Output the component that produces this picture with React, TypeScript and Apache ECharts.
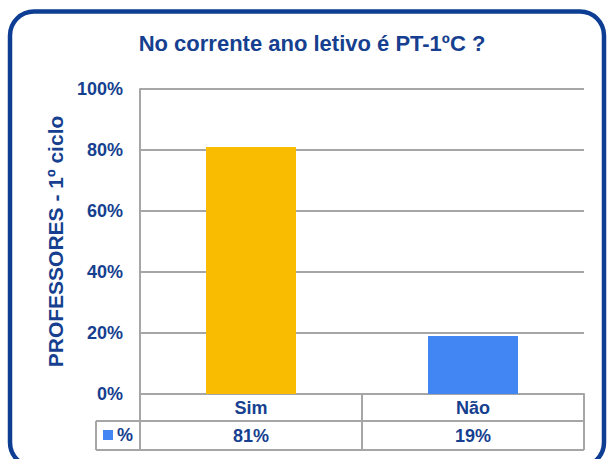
import React, { useEffect, useRef } from "react";
import * as echarts from "echarts";

const titleText = "No corrente ano letivo é PT-1ºC ?";
const yAxisTitle = "PROFESSORES - 1º ciclo";
const categories = ["Sim", "Não"];
const seriesName = "%";
const values = [81, 19];
const pointColors = ["#F9BC00", "#4286F4"];
const yTicks = { min: 0, max: 100, interval: 20 };

const TEXT = "#163F8F";
const GRID = "#A6A6A6";
const FONT = "'Liberation Sans', Arial, sans-serif";

// layout
const W = 608;
const H = 459;
const plotLeft = 140;
const plotRight = 584;
const plotTop = 89;
const plotBottom = 394;
const row1Bottom = 421;
const row2Bottom = 450;
const legendLeft = 96;

export default function App() {
  const ref = useRef<HTMLDivElement>(null);
  useEffect(() => {
    if (!ref.current) return;
    const chart = echarts.init(ref.current, undefined, { renderer: "svg" });

    const n = categories.length;
    const colW = (plotRight - plotLeft) / n;
    const lineStyle = { stroke: GRID, lineWidth: 2 };
    const tableLines: any[] = [
      { type: "line", shape: { x1: plotLeft, y1: row1Bottom, x2: plotRight, y2: row1Bottom }, style: lineStyle },
      { type: "line", shape: { x1: legendLeft, y1: row1Bottom, x2: plotLeft, y2: row1Bottom }, style: lineStyle },
      { type: "line", shape: { x1: legendLeft, y1: row2Bottom, x2: plotRight, y2: row2Bottom }, style: lineStyle },
      { type: "line", shape: { x1: legendLeft, y1: row1Bottom, x2: legendLeft, y2: row2Bottom }, style: lineStyle },
      { type: "line", shape: { x1: plotLeft, y1: plotBottom, x2: plotLeft, y2: row2Bottom }, style: lineStyle },
      { type: "line", shape: { x1: plotRight, y1: plotBottom, x2: plotRight, y2: row2Bottom }, style: lineStyle },
    ];
    for (let i = 1; i < n; i++) {
      const x = plotLeft + i * colW;
      tableLines.push({ type: "line", shape: { x1: x, y1: plotBottom, x2: x, y2: row2Bottom }, style: lineStyle });
    }

    chart.setOption({
      animation: false,
      backgroundColor: "#FFFFFF",
      title: {
        text: titleText,
        left: 312,
        textAlign: "center",
        top: 32,
        padding: 0,
        textStyle: { fontFamily: FONT, fontSize: 22, fontWeight: "bold", color: TEXT },
      },
      legend: {
        data: [seriesName],
        left: 103,
        top: 426,
        padding: 0,
        itemWidth: 10,
        itemHeight: 10,
        icon: "rect",
        textStyle: { fontFamily: FONT, fontSize: 18, fontWeight: "bold", color: TEXT, padding: [0, 0, 0, -1] },
      },
      grid: {
        left: plotLeft,
        right: W - plotRight,
        top: plotTop,
        bottom: H - plotBottom,
        containLabel: false,
      },
      xAxis: [
        {
          type: "category",
          data: categories,
          axisLine: { show: true, lineStyle: { color: GRID, width: 2 } },
          axisTick: { show: false },
          axisLabel: {
            margin: 5,
            fontFamily: FONT,
            fontSize: 18,
            fontWeight: "bold",
            color: TEXT,
          },
        },
        {
          type: "category",
          data: values.map((v) => v + "%"),
          position: "bottom",
          offset: row1Bottom - plotBottom,
          axisLine: { show: false },
          axisTick: { show: false },
          axisLabel: {
            margin: 6,
            fontFamily: FONT,
            fontSize: 18,
            fontWeight: "bold",
            color: TEXT,
          },
        },
      ],
      yAxis: {
        type: "value",
        min: yTicks.min,
        max: yTicks.max,
        interval: yTicks.interval,
        name: yAxisTitle,
        nameLocation: "middle",
        nameRotate: 90,
        nameGap: 74,
        nameTextStyle: { fontFamily: FONT, fontSize: 21, fontWeight: "bold", color: TEXT },
        axisLine: { show: true, lineStyle: { color: GRID, width: 2 } },
        axisTick: { show: false },
        splitLine: { show: true, lineStyle: { color: GRID, width: 2 } },
        axisLabel: {
          margin: 17,
          formatter: "{value}%",
          fontFamily: FONT,
          fontSize: 18,
          fontWeight: "bold",
          color: TEXT,
        },
      },
      series: [
        {
          name: seriesName,
          type: "bar",
          xAxisIndex: 0,
          barWidth: 90,
          itemStyle: { color: pointColors[1] },
          data: values.map((v, i) => ({ value: v, itemStyle: { color: pointColors[i] } })),
        },
      ],
      graphic: [
        ...tableLines,
        {
          type: "rect",
          shape: { x: 10, y: 11.5, width: 594, height: 455, r: 24 },
          style: { fill: "none", stroke: "#0D3E93", lineWidth: 4.5 },
          silent: true,
        },
      ],
    });
    return () => chart.dispose();
  }, []);
  return (
    <div
      ref={ref}
      style={{ position: "fixed", left: 0, top: 0, width: W, height: H, background: "#fff" }}
    />
  );
}
